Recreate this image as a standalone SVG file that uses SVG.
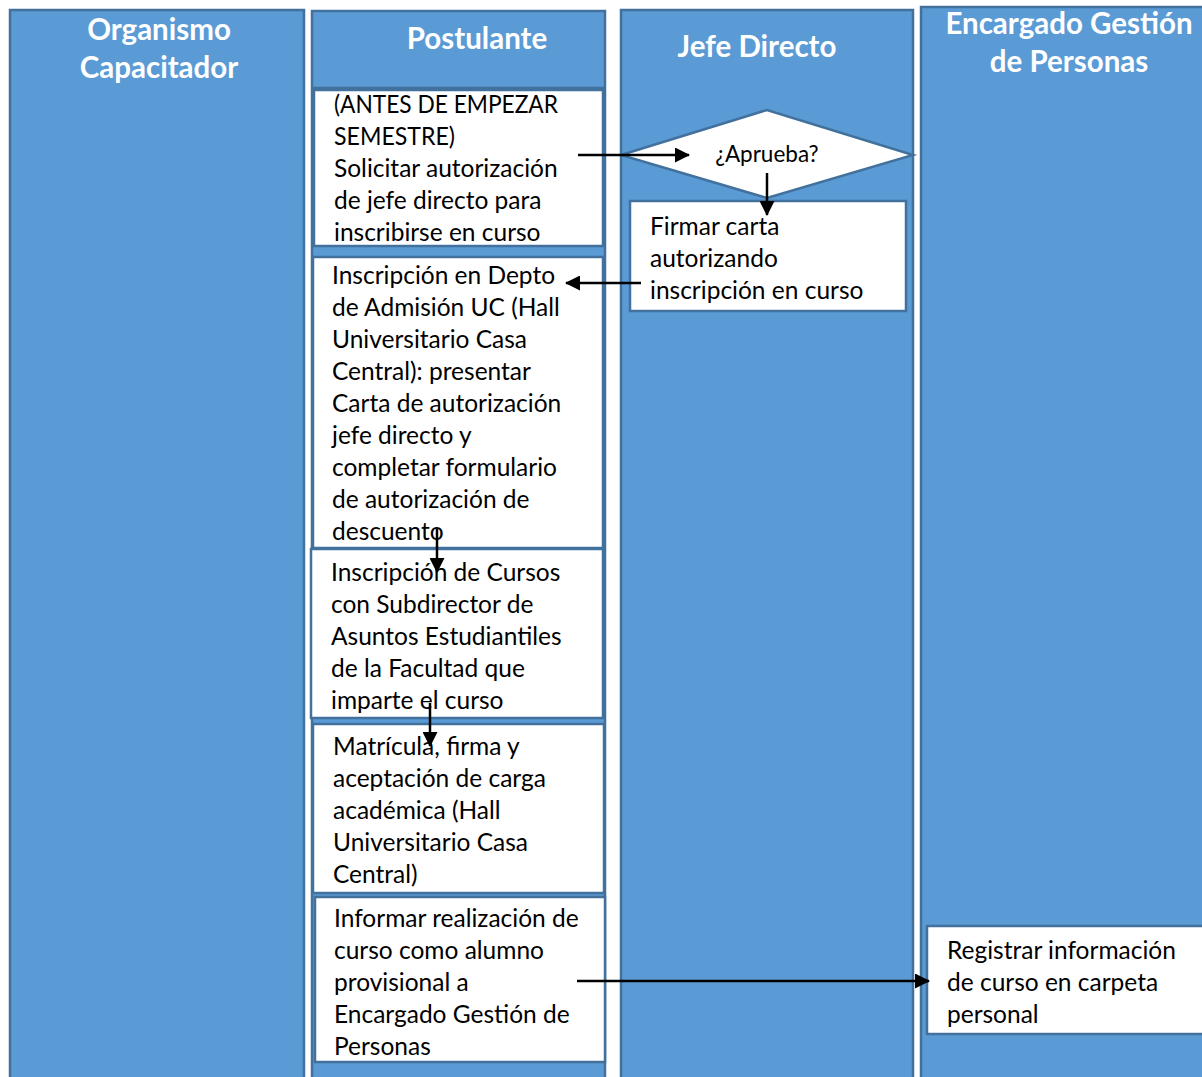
<svg xmlns="http://www.w3.org/2000/svg" width="1202" height="1077" viewBox="0 0 1202 1077">
<defs>
<style>
.lane{fill:#5b9bd5;stroke:#41719c;stroke-width:2.5}
.box{fill:#ffffff;stroke:#41719c;stroke-width:2.5}
.hd{font-family:Lato,"Liberation Sans",sans-serif;font-weight:bold;font-size:29.5px;fill:#ffffff;text-anchor:middle}
.tx{font-family:Lato,"Liberation Sans",sans-serif;font-size:24.5px;fill:#000000}
.dt{font-family:Lato,"Liberation Sans",sans-serif;font-size:22.5px;fill:#000000;text-anchor:middle}
.cn{stroke:#000000;stroke-width:2.5;fill:none;marker-end:url(#ah)}
</style>
<marker id="ah" viewBox="0 0 15 15" refX="14" refY="7.5" markerWidth="15" markerHeight="15" markerUnits="userSpaceOnUse" orient="auto">
<path d="M0,0 L15,7.5 L0,15 Z" fill="#000000"/>
</marker>
</defs>
<rect width="1202" height="1077" fill="#ffffff"/>
<g id="lane-organismo">
<rect class="lane" x="10" y="10" width="294" height="1080"/>
<text class="hd" x="159" y="40">Organismo</text>
<text class="hd" x="159" y="78">Capacitador</text>
</g>
<g id="lane-postulante">
<rect class="lane" x="312" y="11" width="293" height="1080"/>
<line x1="312" y1="88" x2="605" y2="88" stroke="#41719c" stroke-width="2.5"/>
<text class="hd" x="477" y="49">Postulante</text>
</g>
<g id="lane-jefe">
<rect class="lane" x="621" y="10" width="292" height="1080"/>
<text class="hd" x="757" y="57">Jefe Directo</text>
</g>
<g id="lane-encargado">
<rect class="lane" x="921" y="7" width="290" height="1080"/>
<text class="hd" x="1069" y="34">Encargado Gestión</text>
<text class="hd" x="1069" y="72">de Personas</text>
</g>
<g id="n1">
<rect class="box" x="314" y="90" width="289" height="156"/>
<text class="tx"><tspan x="334" y="113" textLength="224" lengthAdjust="spacingAndGlyphs">(ANTES DE EMPEZAR</tspan><tspan x="334" y="145" textLength="121" lengthAdjust="spacingAndGlyphs">SEMESTRE)</tspan><tspan x="334" y="177">Solicitar autorización</tspan><tspan x="334" y="209">de jefe directo para</tspan><tspan x="334" y="241">inscribirse en curso</tspan></text>
</g>
<g id="n2">
<rect class="box" x="313" y="257" width="290" height="291"/>
<text class="tx"><tspan x="332" y="284">Inscripción en Depto</tspan><tspan x="332" y="316">de Admisión UC (Hall</tspan><tspan x="332" y="348">Universitario Casa</tspan><tspan x="332" y="380">Central): presentar</tspan><tspan x="332" y="412">Carta de autorización</tspan><tspan x="332" y="444">jefe directo y</tspan><tspan x="332" y="476">completar formulario</tspan><tspan x="332" y="508">de autorización de</tspan><tspan x="332" y="540">descuento</tspan></text>
</g>
<g id="n3">
<rect class="box" x="311" y="549" width="292" height="169"/>
<text class="tx"><tspan x="331" y="581">Inscripción de Cursos</tspan><tspan x="331" y="613">con Subdirector de</tspan><tspan x="331" y="645">Asuntos Estudiantiles</tspan><tspan x="331" y="677">de la Facultad que</tspan><tspan x="331" y="709">imparte el curso</tspan></text>
</g>
<g id="n4">
<rect class="box" x="313" y="724" width="291" height="169"/>
<text class="tx"><tspan x="333" y="755">Matrícula, firma y</tspan><tspan x="333" y="787">aceptación de carga</tspan><tspan x="333" y="819">académica (Hall</tspan><tspan x="333" y="851">Universitario Casa</tspan><tspan x="333" y="883">Central)</tspan></text>
</g>
<g id="n5">
<rect class="box" x="315" y="897" width="290" height="165"/>
<text class="tx"><tspan x="334" y="927">Informar realización de</tspan><tspan x="334" y="959">curso como alumno</tspan><tspan x="334" y="991">provisional a</tspan><tspan x="334" y="1023">Encargado Gestión de</tspan><tspan x="334" y="1055">Personas</tspan></text>
</g>
<g id="n6">
<polygon class="box" points="621,155 767,110 913,155 767,198"/>
<text class="dt" x="767" y="162">¿Aprueba?</text>
</g>
<g id="n7">
<rect class="box" x="630" y="201" width="276" height="110"/>
<text class="tx"><tspan x="650" y="235">Firmar carta</tspan><tspan x="650" y="267">autorizando</tspan><tspan x="650" y="299">inscripción en curso</tspan></text>
</g>
<g id="n8">
<rect class="box" x="927" y="926" width="285" height="108"/>
<text class="tx"><tspan x="947" y="959">Registrar información</tspan><tspan x="947" y="991">de curso en carpeta</tspan><tspan x="947" y="1023">personal</tspan></text>
</g>
<g id="connectors">
<line class="cn" x1="578" y1="155" x2="689" y2="155"/>
<line class="cn" x1="767" y1="173" x2="767" y2="215"/>
<line class="cn" x1="641" y1="283" x2="566" y2="283"/>
<line class="cn" x1="437" y1="529" x2="437" y2="572"/>
<line class="cn" x1="430" y1="703" x2="430" y2="746"/>
<line class="cn" x1="577" y1="981" x2="929" y2="981"/>
</g>
</svg>
